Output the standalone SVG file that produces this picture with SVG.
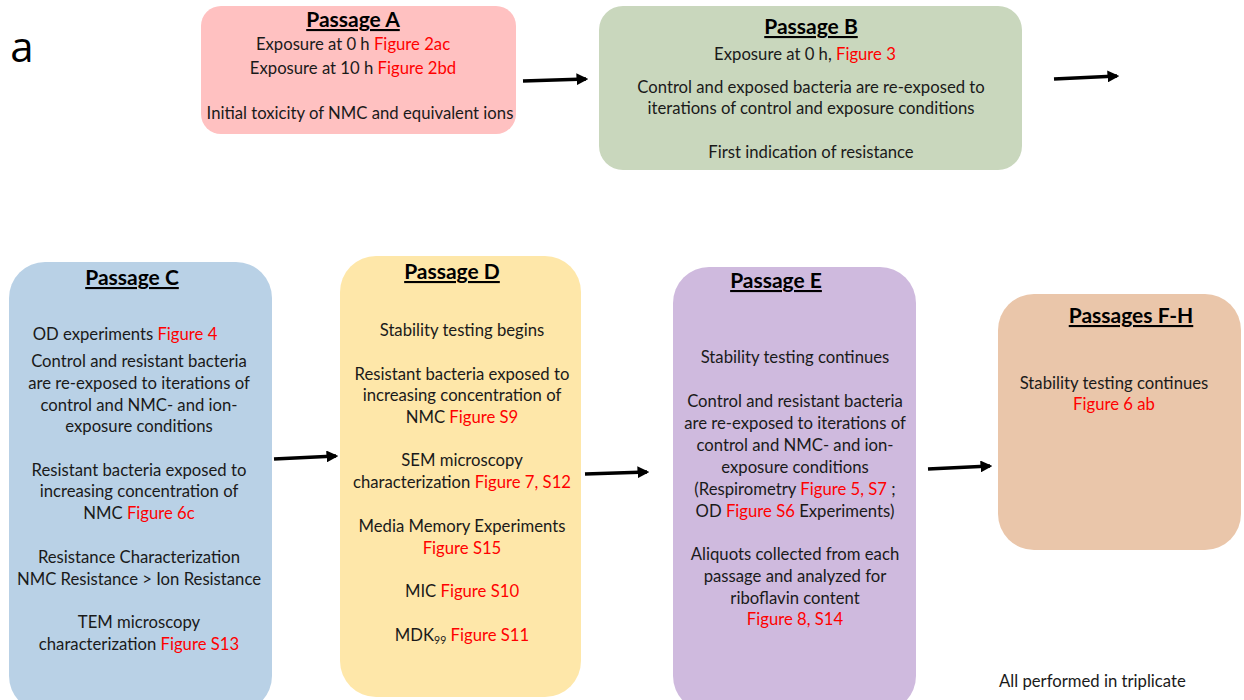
<svg xmlns="http://www.w3.org/2000/svg" width="1244" height="700" viewBox="0 0 1244 700">
<defs>
<style>
text{font-family:Lato,"Liberation Sans",sans-serif;font-size:16.7px;fill:#1a1a1a;text-anchor:middle}
.t{font-weight:bold;font-size:21px;text-decoration:underline;fill:#000}
.r{fill:#ff0000}
.conn line{stroke:#000;stroke-width:3.5;marker-end:url(#ah)}
</style>
<marker id="ah" viewBox="0 0 10 10" refX="8" refY="5" markerWidth="3.4" markerHeight="3.4" orient="auto" markerUnits="strokeWidth">
<path d="M0,0 L10,5 L0,10 z" fill="#000"/>
</marker>
</defs>
<rect width="1244" height="700" fill="#fff"/>
<text x="22" y="62" style="font-size:42px;font-family:'Open Sans','Liberation Sans',sans-serif;fill:#000">a</text>

<g id="passageA">
<rect x="201" y="6" width="315" height="128" rx="20" fill="#ffc1c1"/>
<text class="t" x="353" y="27">Passage A</text>
<text x="353" y="50">Exposure at 0 h <tspan class="r">Figure 2ac</tspan></text>
<text x="353" y="74">Exposure at 10 h <tspan class="r">Figure 2bd</tspan></text>
<text x="360" y="119">Initial toxicity of NMC and equivalent ions</text>
</g>

<g id="passageB">
<rect x="599" y="6" width="423" height="164" rx="24" fill="#c9d7bd"/>
<text class="t" x="811" y="34">Passage B</text>
<text x="805" y="60">Exposure at 0 h, <tspan class="r">Figure 3</tspan></text>
<text x="811" y="93">Control and exposed bacteria are re-exposed to</text>
<text x="811" y="114">iterations of control and exposure conditions</text>
<text x="811" y="158">First indication of resistance</text>
</g>

<g id="passageC">
<rect x="9" y="262" width="263" height="450" rx="36" fill="#b9d1e6"/>
<text class="t" x="132" y="285">Passage C</text>
<text x="125" y="340">OD experiments <tspan class="r">Figure 4</tspan></text>
<text x="139" y="367">Control and resistant bacteria</text>
<text x="139" y="389">are re-exposed to iterations of</text>
<text x="139" y="411">control and NMC- and ion-</text>
<text x="139" y="432">exposure conditions</text>
<text x="139" y="476">Resistant bacteria exposed to</text>
<text x="139" y="497">increasing concentration of</text>
<text x="139" y="519">NMC <tspan class="r">Figure 6c</tspan></text>
<text x="139" y="563">Resistance Characterization</text>
<text x="139" y="585">NMC Resistance &gt; Ion Resistance</text>
<text x="139" y="628">TEM microscopy</text>
<text x="139" y="650">characterization <tspan class="r">Figure S13</tspan></text>
</g>

<g id="passageD">
<rect x="340" y="256" width="241" height="441" rx="36" fill="#fee7a9"/>
<text class="t" x="452" y="279">Passage D</text>
<text x="462" y="336">Stability testing begins</text>
<text x="462" y="380">Resistant bacteria exposed to</text>
<text x="462" y="401">increasing concentration of</text>
<text x="462" y="423">NMC <tspan class="r">Figure S9</tspan></text>
<text x="462" y="466">SEM microscopy</text>
<text x="462" y="488">characterization <tspan class="r">Figure 7, S12</tspan></text>
<text x="462" y="532">Media Memory Experiments</text>
<text x="462" y="554" class="r">Figure S15</text>
<text x="462" y="597">MIC <tspan class="r">Figure S10</tspan></text>
<text x="462" y="641">MDK<tspan style="font-size:10.5px" dy="3">99</tspan><tspan dy="-3"> </tspan><tspan class="r">Figure S11</tspan></text>
</g>

<g id="passageE">
<rect x="673" y="267" width="243" height="445" rx="36" fill="#cfbade"/>
<text class="t" x="776" y="288">Passage E</text>
<text x="795" y="363">Stability testing continues</text>
<text x="795" y="407">Control and resistant bacteria</text>
<text x="795" y="429">are re-exposed to iterations of</text>
<text x="795" y="451">control and NMC- and ion-</text>
<text x="795" y="473">exposure conditions</text>
<text x="795" y="495">(Respirometry <tspan class="r">Figure 5, S7</tspan> ;</text>
<text x="795" y="517">OD <tspan class="r">Figure S6</tspan> Experiments)</text>
<text x="795" y="560">Aliquots collected from each</text>
<text x="795" y="582">passage and analyzed for</text>
<text x="795" y="604">riboflavin content</text>
<text x="795" y="625" class="r">Figure 8, S14</text>
</g>

<g id="passagesFH">
<rect x="998" y="294" width="243" height="256" rx="36" fill="#eac6aa"/>
<text class="t" x="1131" y="323">Passages F-H</text>
<text x="1114" y="389">Stability testing continues</text>
<text x="1114" y="410" class="r">Figure 6 ab</text>
</g>

<text id="note" x="999" y="687" style="text-anchor:start">All performed in triplicate</text>

<g class="conn" id="connectors">
<line x1="523" y1="81" x2="586" y2="79"/>
<line x1="1054" y1="79" x2="1117" y2="76"/>
<line x1="274" y1="459" x2="336" y2="456"/>
<line x1="585" y1="474" x2="647" y2="472"/>
<line x1="928" y1="469" x2="990" y2="466"/>
</g>
</svg>
